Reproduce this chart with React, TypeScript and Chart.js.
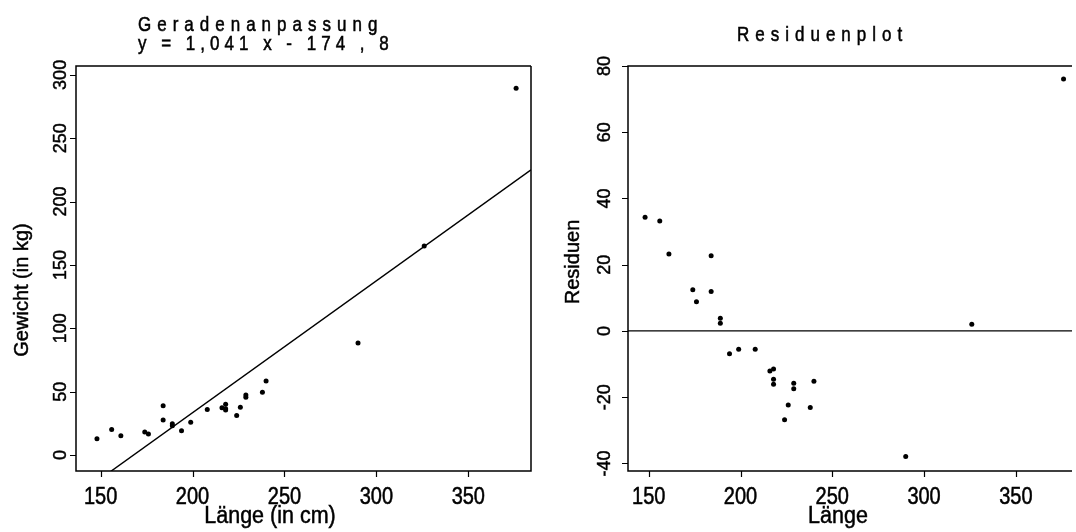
import React, { useEffect, useRef } from "react";
import { Chart, registerables } from "chart.js";

Chart.register(...registerables);

// ---- Daten ----
const laenge = [148, 156, 161, 174, 176, 184, 184, 189, 189, 194, 199, 208, 216, 218, 218, 218, 229, 229, 240, 226, 224, 238, 290, 326, 376];
const gewicht = [12.8, 20.2, 15.2, 18.1, 16.5, 38.8, 27.6, 24.6, 23.2, 19.1, 25.8, 36.0, 37.3, 40.0, 36.5, 35.5, 47.4, 45.6, 58.4, 37.7, 31.1, 49.5, 88.4, 165.0, 289.5];
const residuen = [34.3, 33.2, 23.2, 12.4, 8.8, 22.7, 11.9, 3.8, 2.3, -6.9, -5.5, -5.5, -12.1, -11.5, -14.6, -16.1, -15.8, -17.5, -15.2, -22.4, -26.8, -23.1, -37.9, 2.0, 76.1];

const steigung = 1.041;
const achsenabschnitt = -174.8;

const xTicks = [150, 200, 250, 300, 350];
const yTicksGewicht = [0, 50, 100, 150, 200, 250, 300];
const yTicksResiduen = [-40, -20, 0, 20, 40, 60, 80];

const titelLinks = ["Geradenanpassung", "y = 1,041 x - 174 , 8"];
const titelRechts = ["Residuenplot"];
const xTitelLinks = "Länge (in cm)";
const yTitelLinks = "Gewicht (in kg)";
const xTitelRechts = "Länge";
const yTitelRechts = "Residuen";

const FONT = '"Liberation Sans", Arial, Helvetica, sans-serif';

type TxtOpt = { size: number; align?: CanvasTextAlign; rot?: number; sy?: number; ls?: number };

function txt(ctx: CanvasRenderingContext2D, s: string, x: number, y: number, o: TxtOpt) {
  ctx.save();
  ctx.translate(x, y);
  if (o.rot) ctx.rotate(o.rot);
  ctx.scale(1, o.sy ?? 1);
  ctx.font = `${o.size}px ${FONT}`;
  (ctx as any).letterSpacing = `${o.ls ?? 0}px`;
  ctx.textAlign = o.align ?? "left";
  ctx.textBaseline = "alphabetic";
  ctx.fillStyle = "#000";
  ctx.strokeStyle = "#000";
  ctx.lineWidth = 0.45;
  ctx.fillText(s, 0, 0);
  ctx.strokeText(s, 0, 0);
  ctx.restore();
}

type AxCfg = {
  id: string;
  xTicks: number[];
  yTicks: number[];
  closeRight: boolean;
  titleLines: string[];
  titleX: number;
  titleBaselines: number[];
  titleSpacing: number[];
  xTitle: string;
  xTitleX: number;
  yTitle: string;
  yTitleX: number;
  yTitleY: number;
  yLabelX: number;
};

function axesPlugin(cfg: AxCfg) {
  return {
    id: cfg.id,
    afterDraw(chart: any) {
      const ctx: CanvasRenderingContext2D = chart.ctx;
      const { left, right, top, bottom } = chart.chartArea;
      const xs = chart.scales.x;
      const ys = chart.scales.y;
      ctx.save();
      ctx.strokeStyle = "#000";
      ctx.lineWidth = 1.5;
      ctx.beginPath();
      ctx.moveTo(right, top);
      ctx.lineTo(left, top);
      ctx.lineTo(left, bottom);
      ctx.lineTo(right, bottom);
      if (cfg.closeRight) ctx.lineTo(right, top);
      ctx.stroke();

      ctx.lineWidth = 1.2;
      ctx.beginPath();
      for (const v of cfg.xTicks) {
        const px = Math.round(xs.getPixelForValue(v)) + 0.5;
        ctx.moveTo(px, bottom);
        ctx.lineTo(px, bottom + 6);
      }
      for (const v of cfg.yTicks) {
        const py = Math.round(ys.getPixelForValue(v)) + 0.5;
        ctx.moveTo(left, py);
        ctx.lineTo(left - 6, py);
      }
      ctx.stroke();
      ctx.restore();

      for (const v of cfg.xTicks) {
        txt(ctx, String(v), xs.getPixelForValue(v), bottom + 33, { size: 20, align: "center", sy: 1.2 });
      }
      for (const v of cfg.yTicks) {
        txt(ctx, String(v), cfg.yLabelX, ys.getPixelForValue(v), { size: 18, align: "center", rot: -Math.PI / 2 });
      }
      txt(ctx, cfg.xTitle, cfg.xTitleX, bottom + 52, { size: 21.5, align: "center", sy: 1.1 });
      txt(ctx, cfg.yTitle, cfg.yTitleX, cfg.yTitleY, { size: 20, align: "center", rot: -Math.PI / 2 });
      cfg.titleLines.forEach((t, i) => {
        txt(ctx, t, cfg.titleX, cfg.titleBaselines[i], { size: 17, align: "left", sy: 1.2, ls: cfg.titleSpacing[i] });
      });
    },
  };
}

function Panel(props: {
  width: number;
  offset: number;
  ys: number[];
  xMin: number;
  xMax: number;
  yMin: number;
  yMax: number;
  padding: { left: number; right: number; top: number; bottom: number };
  lineData: { x: number; y: number }[];
  lineWidth: number;
  cfg: AxCfg;
}) {
  const ref = useRef<HTMLCanvasElement | null>(null);
  useEffect(() => {
    if (!ref.current) return;
    const pts = laenge.map((x, i) => ({ x, y: props.ys[i] }));
    const chart = new Chart(ref.current, {
      type: "scatter",
      data: {
        datasets: [
          {
            type: "line",
            data: props.lineData,
            borderColor: "#000",
            borderWidth: props.lineWidth,
            pointRadius: 0,
            fill: false,
          } as any,
          {
            data: pts,
            pointRadius: 2.5,
            pointBackgroundColor: "#000",
            pointBorderWidth: 0,
            pointBorderColor: "#000",
            showLine: false,
          },
        ],
      },
      options: {
        animation: false,
        responsive: false,
        maintainAspectRatio: false,
        layout: { padding: props.padding },
        plugins: { legend: { display: false }, tooltip: { enabled: false }, title: { display: false } },
        scales: {
          x: { type: "linear", display: false, min: props.xMin, max: props.xMax },
          y: { type: "linear", display: false, min: props.yMin, max: props.yMax },
        },
      },
      plugins: [axesPlugin(props.cfg)],
    });
    return () => chart.destroy();
  }, []);
  return (
    <canvas
      ref={ref}
      width={props.width}
      height={532}
      style={{ position: "absolute", left: props.offset, top: 0, width: props.width, height: 532, display: "block" }}
    />
  );
}

export default function App() {
  const lx0 = 136.6;
  const lx1 = 384.1;
  const rx0 = 138.7;
  const rx1 = 380.6;
  return (
    <div style={{ position: "absolute", left: 0, top: 0, width: 1076, height: 532, background: "#fff", overflow: "hidden" }}>
      <Panel
        width={540}
        offset={0}
        ys={gewicht}
        xMin={lx0}
        xMax={lx1}
        yMin={-12.6}
        yMax={307}
        padding={{ left: 76, right: 9, top: 66, bottom: 61 }}
        lineData={[
          { x: lx0, y: steigung * lx0 + achsenabschnitt },
          { x: lx1, y: steigung * lx1 + achsenabschnitt },
        ]}
        lineWidth={1.4}
        cfg={{
          id: "achsenLinks",
          xTicks,
          yTicks: yTicksGewicht,
          closeRight: true,
          titleLines: titelLinks,
          titleX: 138,
          titleBaselines: [31, 50],
          titleSpacing: [6, 5],
          xTitle: xTitelLinks,
          xTitleX: 270,
          yTitle: yTitelLinks,
          yTitleX: 28,
          yTitleY: 290,
          yLabelX: 66,
        }}
      />
      <Panel
        width={536}
        offset={540}
        ys={residuen}
        xMin={rx0}
        xMax={rx1}
        yMin={-42.3}
        yMax={80}
        padding={{ left: 88, right: 0, top: 66, bottom: 61 }}
        lineData={[
          { x: rx0, y: 0 },
          { x: rx1, y: 0 },
        ]}
        lineWidth={1.2}
        cfg={{
          id: "achsenRechts",
          xTicks,
          yTicks: yTicksResiduen,
          closeRight: false,
          titleLines: titelRechts,
          titleX: 197,
          titleBaselines: [41],
          titleSpacing: [6],
          xTitle: xTitelRechts,
          xTitleX: 298,
          yTitle: yTitelRechts,
          yTitleX: 39,
          yTitleY: 262,
          yLabelX: 70,
        }}
      />
    </div>
  );
}
